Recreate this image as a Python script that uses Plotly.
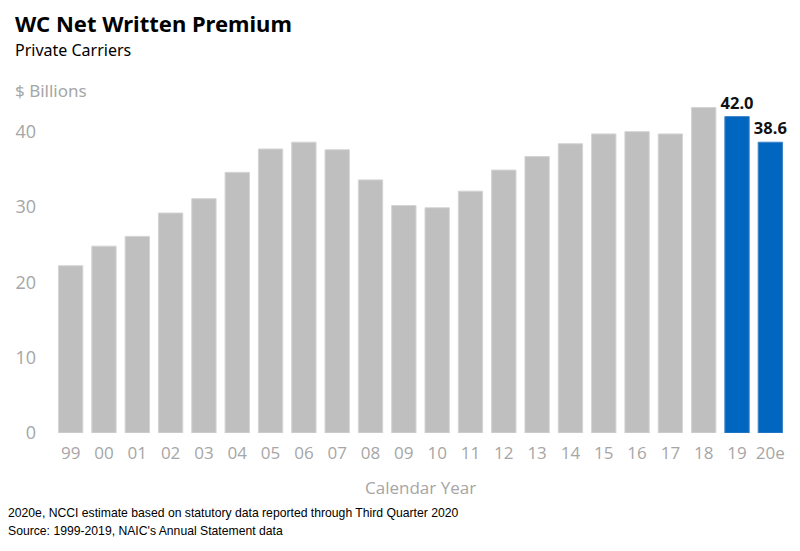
import plotly.graph_objects as go

years = ["99", "00", "01", "02", "03", "04", "05", "06", "07", "08", "09",
         "10", "11", "12", "13", "14", "15", "16", "17", "18", "19", "20e"]
premium = [22.2, 24.8, 26.1, 29.2, 31.1, 34.6, 37.7, 38.6, 37.6, 33.6, 30.2,
           29.9, 32.1, 34.9, 36.7, 38.4, 39.7, 40.0, 39.7, 43.2, 42.0, 38.6]
highlighted = ["19", "20e"]
y_ticks = [0, 10, 20, 30, 40]

GRAY = "#BFBFBF"
BLUE = "#0066BF"
TICK = "#A6A6A6"

colors = [BLUE if y in highlighted else GRAY for y in years]
line_colors = ["#3D84C9" if y in highlighted else "#D4D4D4" for y in years]
labels = [f"{v:.1f}" if y in highlighted else "" for y, v in zip(years, premium)]

fig = go.Figure(go.Bar(
    x=years, y=premium,
    marker=dict(color=colors, line=dict(color=line_colors, width=1)),
    text=labels, textposition="outside", constraintext="none",
    textfont=dict(family="Noto Sans", size=16.5, color="#111111", weight="bold"),
    cliponaxis=False, width=0.73,
))

# page body has an 8px offset; figure coordinates are target pixels minus OFF
OFF = 8
W, H = 800 - OFF, 551 - OFF
L = 54 - OFF
T = 94 - OFF
B = H - (433 - OFF)
R = W - (787 - OFF)
pw, ph = W - L - R, H - T - B

def px(x):
    return (x - OFF - L) / pw

def py(y):
    return (H - B - (y - OFF)) / ph

fig.update_layout(
    width=W, height=H,
    margin=dict(l=L, r=R, t=T, b=B, autoexpand=False),
    plot_bgcolor="white", paper_bgcolor="white",
    showlegend=False,
    bargap=0.27,
    xaxis=dict(type="category", showgrid=False, showline=False, ticks="", automargin=False,
               ticklabelstandoff=8,
               tickfont=dict(family="Open Sans", size=17, color=TICK)),
    yaxis=dict(range=[0, 45], tickvals=y_ticks, showgrid=False, zeroline=False,
               showline=False, ticks="", ticklabelstandoff=17, automargin=False,
               tickfont=dict(family="Open Sans", size=18, color=TICK)),
    font=dict(family="Noto Sans"),
)

ann = [
    dict(text="<b>WC Net Written Premium</b>", x=px(13), y=py(23), xanchor="left", yanchor="middle",
         font=dict(family="Noto Sans", size=22, color="#000000")),
    dict(text="Private Carriers", x=px(13), y=py(50), xanchor="left", yanchor="middle",
         font=dict(family="Noto Sans", size=16, color="#000000")),
    dict(text="$ Billions", x=px(13), y=py(90), xanchor="left", yanchor="middle",
         font=dict(family="Noto Sans", size=17, color=TICK)),
    dict(text="Calendar Year", x=0.5, y=py(487), xanchor="center", yanchor="middle",
         font=dict(family="Open Sans", size=17, color=TICK)),
    dict(text="2020e, NCCI estimate based on statutory data reported through Third Quarter 2020",
         x=px(6), y=py(513), xanchor="left", yanchor="middle",
         font=dict(family="Liberation Sans Narrow, Arial Narrow, sans-serif", size=12.2, color="#000000")),
    dict(text="Source: 1999-2019, NAIC's Annual Statement data",
         x=px(6), y=py(531), xanchor="left", yanchor="middle",
         font=dict(family="Liberation Sans Narrow, Arial Narrow, sans-serif", size=12.2, color="#000000")),
]
for a in ann:
    a.update(xref="paper", yref="paper", showarrow=False)
fig.update_layout(annotations=ann)

fig.write_html("out.html")
